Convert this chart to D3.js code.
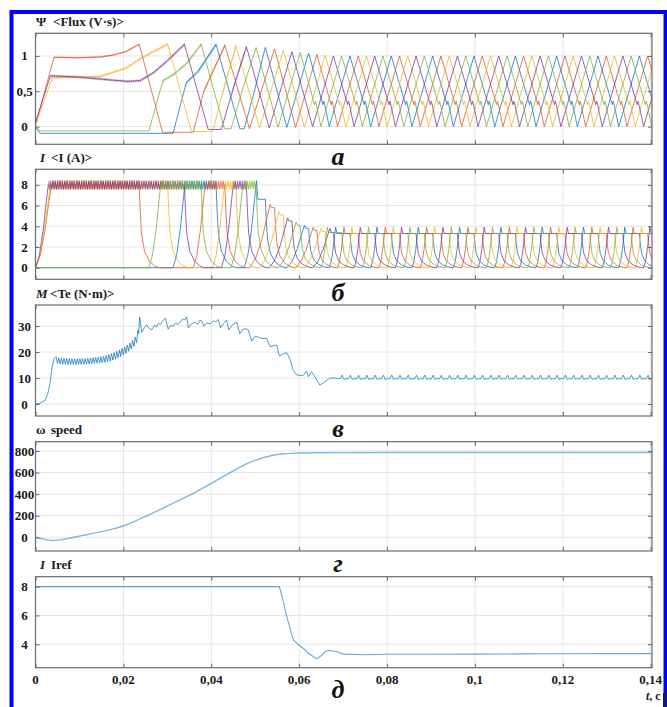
<!DOCTYPE html>
<html>
<head>
<meta charset="utf-8">
<script src="https://cdn.jsdelivr.net/npm/d3@7"></script>
<style>
  body { margin: 0; background: #fff; }
</style>
</head>
<body>
<svg id="chart"></svg>
<script>
// time in ms

// phase order: orange, yellow, purple, green, blue
const phaseColors = ["#D95319", "#EDB120", "#7E2F8E", "#77AC30", "#0072BD"]

const fluxOrange = [[0,0.02],[4.2,0.98],[10,0.975],[14.7,0.985],[17.5,1.01],[20.5,1.06],[23.6,1.165],[28.9,-0.08],[35.9,-0.08],[38.3,0.5],[43.1,1.15],[48.7,-0.03],[54.4,1.1],[59.2,-0.01],[64.03,1.02],[68.74,0],[73.44,1],[78.15,0],[82.85,1],[87.56,0],[92.26,1],[96.97,0],[101.67,1],[106.38,0],[111.08,1],[115.79,0],[120.49,1],[125.2,0],[129.9,1],[134.61,0],[139.31,1],[140.3,0.79]]
const fluxYellow = [[0,0.02],[3.8,0.69],[14.7,0.71],[20.7,0.83],[23.6,0.95],[26.8,1.06],[30.1,1.165],[35.5,-0.07],[40.3,-0.07],[42.7,0.5],[45.6,1.14],[51,-0.02],[56.4,1.08],[61.2,-0.01],[65.91,1.01],[70.62,0],[75.32,1],[80.03,0],[84.73,1],[89.44,0],[94.14,1],[98.85,0],[103.55,1],[108.26,0],[112.96,1],[117.67,0],[122.37,1],[127.08,0],[131.78,1],[136.49,0],[140.3,0.81]]
const fluxPurple = [[0,0.06],[3.4,0.72],[10,0.7],[17,0.66],[21,0.64],[23.8,0.65],[26.8,0.76],[30,0.93],[33.9,1.165],[39.3,-0.04],[42.3,-0.04],[44.8,0.5],[48,1.13],[53.2,-0.02],[58.35,1.06],[63.07,0],[67.79,1],[72.5,0],[77.2,1],[81.91,0],[86.61,1],[91.32,0],[96.02,1],[100.73,0],[105.43,1],[110.14,0],[114.84,1],[119.56,0],[124.26,1],[128.97,0],[133.67,1],[138.38,0],[140.3,0.41]]
const fluxGreen = [[0,0],[1,-0.06],[25.8,-0.06],[29,0.65],[31.5,0.74],[34.5,0.9],[37.7,1.165],[43,-0.03],[44.5,-0.03],[47,0.5],[50.2,1.12],[55.2,-0.01],[60.25,1.05],[64.96,0],[69.67,1],[74.38,0],[79.08,1],[83.79,0],[88.5,1],[93.21,0],[97.91,1],[102.62,0],[107.32,1],[112.03,0],[116.73,1],[121.44,0],[126.14,1],[130.85,0],[135.55,1],[140.26,0]]
const fluxBlue = [[0,0],[1,-0.095],[31.3,-0.095],[34.3,0.62],[37,0.78],[41.1,1.165],[46.5,-0.03],[47.5,-0.03],[49.8,0.5],[52.3,1.12],[57.2,-0.01],[62.15,1.04],[66.86,0],[71.56,1],[76.27,0],[80.97,1],[85.68,0],[90.38,1],[95.09,0],[99.79,1],[104.5,0],[109.2,1],[113.91,0],[118.61,1],[123.32,0],[128.02,1],[132.73,0],[137.43,1],[140.3,0.39]]

// small notch on each steady-state falling edge: [ms after the peak, flux]
const fluxNotch = [[3.25,0.31],[3.45,0.36],[3.6,0.33]]

// stretches where the flux trace carries fine chopping ripple: [phase, from ms, to ms, band px]
const fluxRipple = [[0,4.2,23.6,1.8],[1,3.8,30.1,2.6],[2,3.4,33.9,2.6],[3,29,37.7,2.2],[4,34.3,41.1,2.2],[0,38.3,43.1,1.8],[1,42.7,45.6,1.6],[2,44.8,48,1.6]]

// current conduction cycles: [on, full, off, peak, hold, chopped]
const curOrange = [[0,3.6,23.6,8,8,1],[35.9,38.6,43.1,8,8,1],[48.7,53.4,54.4,6.1,5.8,0],[59.2,63.2,64.03,3.9,3.6,0],[68.74,70.2,73.44,3.9,3.3,0],[78.15,79.6,82.85,3.9,3.3,0],[87.56,89,92.26,3.9,3.3,0],[96.97,98.4,101.67,3.9,3.3,0],[106.38,107.8,111.08,3.9,3.3,0],[115.79,117.2,120.49,3.9,3.3,0],[125.2,126.6,129.9,3.9,3.3,0],[134.61,136,139.31,3.9,3.3,0]]
const curYellow = [[0,3.4,30.1,8,8,1],[40.3,43,45.6,8,8,1],[51,55.4,56.4,5.4,5.1,0],[61.2,65,65.91,3.8,3.5,0],[70.62,72,75.32,3.9,3.3,0],[80.03,81.4,84.73,3.9,3.3,0],[89.44,90.8,94.14,3.9,3.3,0],[98.85,100.2,103.55,3.9,3.3,0],[108.26,109.6,112.96,3.9,3.3,0],[117.67,119.1,122.37,3.9,3.3,0],[127.08,128.5,131.78,3.9,3.3,0],[136.49,137.9,141.19,3.9,3.3,0]]
const curPurple = [[0,2.9,33.9,8,8,1],[42.3,45,48,8,8,1],[53.2,57.4,58.35,4.8,4.5,0],[63.07,67,67.79,3.8,3.4,0],[72.5,73.9,77.2,3.9,3.3,0],[81.91,83.3,86.61,3.9,3.3,0],[91.32,92.7,96.02,3.9,3.3,0],[100.73,102.1,105.43,3.9,3.3,0],[110.14,111.5,114.84,3.9,3.3,0],[119.56,121,124.26,3.9,3.3,0],[128.97,130.4,133.67,3.9,3.3,0],[138.38,139.8,143.08,3.9,3.3,0]]
const curGreen = [[25.8,28.5,37.7,8,8,1],[44.5,47.2,50.2,8,8,1],[55.2,59.3,60.25,4.4,4.1,0],[64.96,66.4,69.67,3.9,3.4,0],[74.38,75.8,79.08,3.9,3.3,0],[83.79,85.2,88.5,3.9,3.3,0],[93.21,94.6,97.91,3.9,3.3,0],[102.62,104,107.32,3.9,3.3,0],[112.03,113.4,116.73,3.9,3.3,0],[121.44,122.8,126.14,3.9,3.3,0],[130.85,132.3,135.55,3.9,3.3,0]]
const curBlue = [[31.3,34,41.1,8,8,1],[47.5,50.3,52.3,8.4,6.6,0],[57.2,61.2,62.15,4.1,3.8,0],[66.86,68.3,71.56,3.9,3.3,0],[76.27,77.7,80.97,3.9,3.3,0],[85.68,87.1,90.38,3.9,3.3,0],[95.09,96.5,99.79,3.9,3.3,0],[104.5,105.9,109.2,3.9,3.3,0],[113.91,115.3,118.61,3.9,3.3,0],[123.32,124.7,128.02,3.9,3.3,0],[132.73,134.1,137.43,3.9,3.3,0]]

// shape of the current rise (fraction of rise time, fraction of peak) and decay (ms after turn-off, fraction)
const riseShape = [[0,0],[0.3,0.15],[0.6,0.45],[0.85,0.8],[1,1]]
const tailShape = [[0,1],[0.2,0.72],[0.5,0.42],[1.2,0.2],[2.3,0.08],[3.4,0.025],[4.5,0]]
const chopBand = [7.5, 8.45]

const torque = [[0,0],[1,0.3],[2.2,1.5],[2.8,4],[3.3,8],[3.75,14],[4.2,17.5],[4.7,18.2],
  [5,15.6],[5.3,17.7],[5.6,15.4],[5.9,17.6],[6.2,15.3],[6.5,17.6],[6.8,15.3],[7.1,17.5],[7.4,15.2],[7.7,17.5],[8,15.2],[8.3,17.4],[8.6,15.2],[8.9,17.4],[9.2,15.2],[9.5,17.4],[9.8,15.3],[10.1,17.5],[10.4,15.3],[10.7,17.5],[11,15.3],[11.3,17.5],[11.6,15.3],[11.9,17.6],[12.2,15.4],[12.5,17.7],[12.8,15.5],[13.1,17.8],[13.4,15.6],[13.7,17.9],[14,15.7],[14.3,18],[14.6,15.8],[14.9,18.2],[15.2,15.9],[15.5,18.4],[15.8,16.1],[16.1,18.7],[16.4,16.3],[16.7,19],[17,16.5],[17.3,19.4],[17.6,16.9],[17.9,19.8],[18.2,17.3],[18.5,20.3],[18.8,17.8],[19.1,20.8],[19.4,18.3],[19.7,21.4],[20,18.9],[20.3,22],[20.6,19.5],[20.9,22.7],[21.2,20.3],[21.5,23.5],[21.8,21.2],[22.1,24.5],[22.4,22.2],[22.7,25.8],[23,23.6],[23.3,28.5],[23.5,27],[23.7,33.5],
  [24.2,27.5],[24.8,29.5],[25.3,30.5],[25.8,29.2],[26.4,28.5],[27.1,30.4],[27.5,29.6],[27.9,31],[28.5,30.6],[29,32.2],[29.6,33],[30.2,28.8],[30.7,30.2],[31.3,30],[31.9,31.2],[32.4,30.6],[32.9,31.5],[33.5,32.8],[34,32.4],[34.4,33.5],[34.8,29.3],[35.5,30.8],[36.3,31.5],[36.9,30.7],[37.4,32.2],[37.8,32],[38.3,30],[39,31.2],[39.7,30.8],[40.5,32],[41,31.6],[41.6,32.5],[42.1,29.3],[42.8,31],[43.5,32.3],[44,28.5],[44.9,30.6],[45.8,31.5],[46.5,27],[47.1,28.6],[47.7,29],[48.4,28.6],[49.2,24.2],[49.8,25.8],[50.3,26],[51.5,25.2],[52.6,25.3],[53.4,22],[54.2,22.5],[54.9,22.7],[55.5,18.5],[56.4,19.4],[57.2,19.7],[57.9,17.3],[58.7,12.8],[59.4,11.2],[60.9,11],[61.7,12.7],[62.1,10.5],[62.8,12.4],[63.6,10.5],[64.7,7.3],[65.9,8.6],[67,10],[68.1,10]]
const torqueSpikeMs = [69.67,71.56,73.44,75.32,77.2,79.08,80.97,82.85,84.73,86.61,88.5,90.38,92.26,94.14,96.02,97.91,99.79,101.67,103.55,105.43,107.32,109.2,111.08,112.96,114.84,116.73,118.61,120.49,122.37,124.26,126.14,128.02,129.9,131.78,133.67,135.55,137.43,139.31]
const torqueSpikeShape = [[-0.3,9.7],[0.1,11.1],[0.5,9.5],[1,9.8]]

const speed = [[0,0],[1.5,-14],[3.7,-30],[5.5,-24],[7.5,-10],[10.9,18],[14.7,50],[17.7,78],[20,105],[24,175],[28,250],[32,330],[36,410],[40,500],[44,592],[48,680],[52,740],[56,772],[60,781],[64,784],[80,786],[100,786],[120,786],[140.3,786]]

const iref = [[0,8],[55.5,8],[56.2,7.2],[57.2,5.9],[58.2,4.8],[58.7,4.3],[60.2,3.88],[61.2,3.65],[62.1,3.37],[63.2,3.15],[64,2.98],[65,3.2],[66,3.5],[66.6,3.56],[68.5,3.5],[69.3,3.4],[70,3.31],[75,3.27],[80,3.3],[90,3.3],[100,3.31],[110,3.33],[120,3.34],[130,3.35],[140.3,3.35]]

const xTicks = [0, 20, 40, 60, 80, 100, 120, 140]

let width = 667
let height = 707
let serif = "'Liberation Serif', 'Times New Roman', serif"

let svg = d3.select("#chart").attr("width", width).attr("height", height)
  .attr("font-family", serif).attr("font-weight", "bold")

let ru = d3.formatLocale({ decimal: ",", thousands: " ", grouping: [3], currency: ["", ""] })
let fmt = ru.format("~g")

let x = d3.scaleLinear().domain([0, 140.3]).range([35.5, 652])

let panels = [
  { top: 33.3, bottom: 144.3, domain: [-0.25, 1.32], ticks: [0, 0.5, 1], sym: "Ψ", symX: 36, italic: false, name: "<Flux (V·s)>", nameX: 53, letter: "а" },
  { top: 169.3, bottom: 279.3, domain: [-1.12, 9.5], ticks: [0, 2, 4, 6, 8], sym: "I", symX: 40, italic: true, name: "<I (A)>", nameX: 51, letter: "б" },
  { top: 305, bottom: 416, domain: [-4.6, 38.1], ticks: [0, 10, 20, 30], sym: "M", symX: 36, italic: true, name: "<Te (N·m)>", nameX: 50, letter: "в" },
  { top: 441.7, bottom: 551, domain: [-127, 886], ticks: [0, 200, 400, 600, 800], sym: "ω", symX: 36, italic: false, name: "speed", nameX: 51, letter: "г" },
  { top: 576.7, bottom: 667.7, domain: [2.37, 8.69], ticks: [4, 6, 8], sym: "I", symX: 40, italic: true, name: "Iref", nameX: 51, letter: "д" }
]

let defs = svg.append("defs")

panels.forEach((p, i) => {
  p.y = d3.scaleLinear().domain(p.domain).range([p.bottom, p.top])
  let x0 = x.range()[0], x1 = x.range()[1]

  defs.append("clipPath").attr("id", "clip" + i)
    .append("rect").attr("x", x0).attr("y", p.top).attr("width", x1 - x0).attr("height", p.bottom - p.top)

  let g = svg.append("g")
  p.g = g

  // grid
  g.selectAll(".gx").data(xTicks).enter().append("line")
    .attr("x1", d => x(d)).attr("x2", d => x(d)).attr("y1", p.top).attr("y2", p.bottom)
    .attr("stroke", "#e6e6e6").attr("stroke-width", 1)
  g.selectAll(".gy").data(p.ticks).enter().append("line")
    .attr("x1", x0).attr("x2", x1).attr("y1", d => p.y(d)).attr("y2", d => p.y(d))
    .attr("stroke", "#e6e6e6").attr("stroke-width", 1)

  p.plot = g.append("g").attr("clip-path", "url(#clip" + i + ")")

  // inward ticks on all four sides
  let axes = [
    [d3.axisLeft(p.y).tickValues(p.ticks), `translate(${x0},0)`],
    [d3.axisRight(p.y).tickValues(p.ticks), `translate(${x1},0)`],
    [d3.axisTop(x).tickValues(xTicks), `translate(0,${p.top})`],
    [d3.axisBottom(x).tickValues(xTicks), `translate(0,${p.bottom})`]
  ]
  p.axisG = g.append("g")
  axes.forEach(a => {
    let ag = p.axisG.append("g").attr("transform", a[1])
      .call(a[0].tickSizeInner(-4).tickSizeOuter(0).tickFormat(""))
    ag.select(".domain").remove()
    ag.selectAll("line").attr("stroke", "#666")
  })

  // y tick labels
  g.selectAll(".yl").data(p.ticks).enter().append("text")
    .attr("x", 24.5).attr("y", d => p.y(d)).attr("dy", "0.35em")
    .attr("text-anchor", "middle").attr("font-size", 13).attr("fill", "#1a1a1a")
    .text(d => fmt(d))

  // title
  g.append("text").attr("x", p.symX).attr("y", p.top - 7.5)
    .attr("font-size", 13).attr("font-style", p.italic ? "italic" : "normal").attr("fill", "#1a1a1a")
    .text(p.sym)
  g.append("text").attr("x", p.nameX).attr("y", p.top - 7.5)
    .attr("font-size", 13).attr("fill", "#1a1a1a")
    .text(p.name)
})

// box after plots so it sits on top
function drawBoxes() {
  panels.forEach(p => {
    p.g.append("rect").attr("x", x.range()[0]).attr("y", p.top)
      .attr("width", x.range()[1] - x.range()[0]).attr("height", p.bottom - p.top)
      .attr("fill", "none").attr("stroke", "#6b6b6b").attr("stroke-width", 1.2)
  })
}

// ---- flux ----
let fluxSeries = [fluxOrange, fluxYellow, fluxPurple, fluxGreen, fluxBlue]

// add the notch to steady-state falling edges
function withNotches(series) {
  let pts = []
  series.forEach((d, i) => {
    pts.push(d)
    let next = series[i + 1]
    if (next && d[0] > 60 && d[1] > 0.95 && next[1] < d[1] && next[0] > d[0] + 3.7) {
      fluxNotch.forEach(n => pts.push([d[0] + n[0], n[1]]))
    }
  })
  return pts
}

let drawOrder = [4, 0, 1, 2, 3]
let line1 = d3.line().x(d => x(d[0])).y(d => panels[0].y(d[1]))

// ripple stretches: same trace, drawn wider inside a narrow clip
fluxRipple.forEach((r, j) => {
  defs.append("clipPath").attr("id", "rip" + j)
    .append("rect").attr("x", x(r[1])).attr("y", panels[0].top)
    .attr("width", x(r[2]) - x(r[1])).attr("height", panels[0].bottom - panels[0].top)
  panels[0].plot.append("path").datum(fluxSeries[r[0]])
    .attr("clip-path", "url(#rip" + j + ")")
    .attr("d", line1).attr("fill", "none")
    .attr("stroke", phaseColors[r[0]]).attr("stroke-width", r[3]).attr("stroke-opacity", 0.45)
    .attr("stroke-dasharray", "1.2,0.6")
})
drawOrder.forEach(k => {
  panels[0].plot.append("path").datum(withNotches(fluxSeries[k]))
    .attr("d", line1).attr("fill", "none")
    .attr("stroke", phaseColors[k]).attr("stroke-width", 1).attr("stroke-opacity", 0.75)
})

// ---- phase currents ----
function currentPoints(cycles) {
  let pts = []
  if (cycles[0][0] > 0) pts.push([0, 0])
  cycles.forEach(c => {
    let on = c[0], full = c[1], off = c[2], peak = c[3], hold = c[4], chop = c[5]
    riseShape.forEach(r => pts.push([on + r[0] * (full - on), r[1] * peak]))
    if (chop) pts.push(null)
    else if (full + 0.3 < off) pts.push([full + 0.3, hold])
    tailShape.forEach(s => pts.push([off + s[0], s[1] * hold]))
  })
  return pts
}

let curSeries = [curOrange, curYellow, curPurple, curGreen, curBlue]
let y2 = panels[1].y
let line2 = d3.line().defined(d => d !== null).x(d => x(d[0])).y(d => y2(d[1]))

// zigzag fill for current chopping bands
phaseColors.forEach((c, k) => {
  let h = y2(chopBand[0]) - y2(chopBand[1])
  defs.append("pattern").attr("id", "chop" + k).attr("patternUnits", "userSpaceOnUse")
    .attr("x", 0).attr("y", y2(chopBand[1])).attr("width", 2.4).attr("height", h)
    .append("path").attr("d", `M0,0.5L1.2,${h - 0.5}L2.4,0.5`)
    .attr("fill", "none").attr("stroke", c).attr("stroke-width", 0.9)
})

drawOrder.forEach(k => {
  panels[1].plot.append("path").datum(currentPoints(curSeries[k]))
    .attr("d", line2).attr("fill", "none")
    .attr("stroke", phaseColors[k]).attr("stroke-width", 1).attr("stroke-opacity", 0.75)
})
drawOrder.forEach(k => {
  panels[1].plot.selectAll(".chop" + k).data(curSeries[k].filter(c => c[5])).enter().append("rect")
    .attr("x", c => x(c[1])).attr("width", c => x(c[2]) - x(c[1]))
    .attr("y", y2(chopBand[1])).attr("height", y2(chopBand[0]) - y2(chopBand[1]))
    .attr("fill", "url(#chop" + k + ")").attr("opacity", 0.8)
})

// ---- torque ----
let torquePts = torque.slice()
torqueSpikeMs.forEach(c => {
  torqueSpikeShape.forEach(s => torquePts.push([c + s[0], s[1]]))
})
torquePts.push([140.3, 9.7])
let line3 = d3.line().x(d => x(d[0])).y(d => panels[2].y(d[1]))
panels[2].plot.append("path").datum(torquePts)
  .attr("d", line3).attr("fill", "none")
  .attr("stroke", "#0072BD").attr("stroke-width", 1).attr("stroke-opacity", 0.7)

// ---- speed ----
let line4 = d3.line().curve(d3.curveMonotoneX).x(d => x(d[0])).y(d => panels[3].y(d[1]))
panels[3].plot.append("path").datum(speed)
  .attr("d", line4).attr("fill", "none")
  .attr("stroke", "#0072BD").attr("stroke-width", 1.4).attr("stroke-opacity", 0.5)

// ---- current reference ----
let line5 = d3.line().x(d => x(d[0])).y(d => panels[4].y(d[1]))
panels[4].plot.append("path").datum(iref)
  .attr("d", line5).attr("fill", "none")
  .attr("stroke", "#0072BD").attr("stroke-width", 1.1).attr("stroke-opacity", 0.6)

drawBoxes()

// x tick labels under the last panel
svg.selectAll(".xl").data(xTicks).enter().append("text")
  .attr("x", d => x(d)).attr("y", 684)
  .attr("text-anchor", "middle").attr("font-size", 13).attr("fill", "#1a1a1a")
  .text(d => fmt(d / 1000))

let axisName = svg.append("text").attr("x", 646).attr("y", 700).attr("font-size", 12).attr("fill", "#1a1a1a")
axisName.append("tspan").attr("font-style", "italic").text("t")
axisName.append("tspan").text(", c")

// sub-figure letters
let letterY = [165, 301, 437, 572, 698]
panels.forEach((p, i) => {
  svg.append("text").attr("x", 338).attr("y", letterY[i])
    .attr("text-anchor", "middle").attr("font-size", 26).attr("font-style", "italic")
    .attr("fill", "#111").text(p.letter)
})

// blue frame
svg.append("rect").attr("x", 10).attr("y", 10).attr("width", 656).attr("height", 4).attr("fill", "#0000ff")
svg.append("rect").attr("x", 9.5).attr("y", 10).attr("width", 4).attr("height", 697).attr("fill", "#0000ff")
svg.append("rect").attr("x", 663.5).attr("y", 10).attr("width", 3.5).attr("height", 684).attr("fill", "#0000ff")
svg.append("rect").attr("x", 663).attr("y", 693).attr("width", 4).attr("height", 14).attr("fill", "#0a1a8c")
</script>
</body>
</html>
